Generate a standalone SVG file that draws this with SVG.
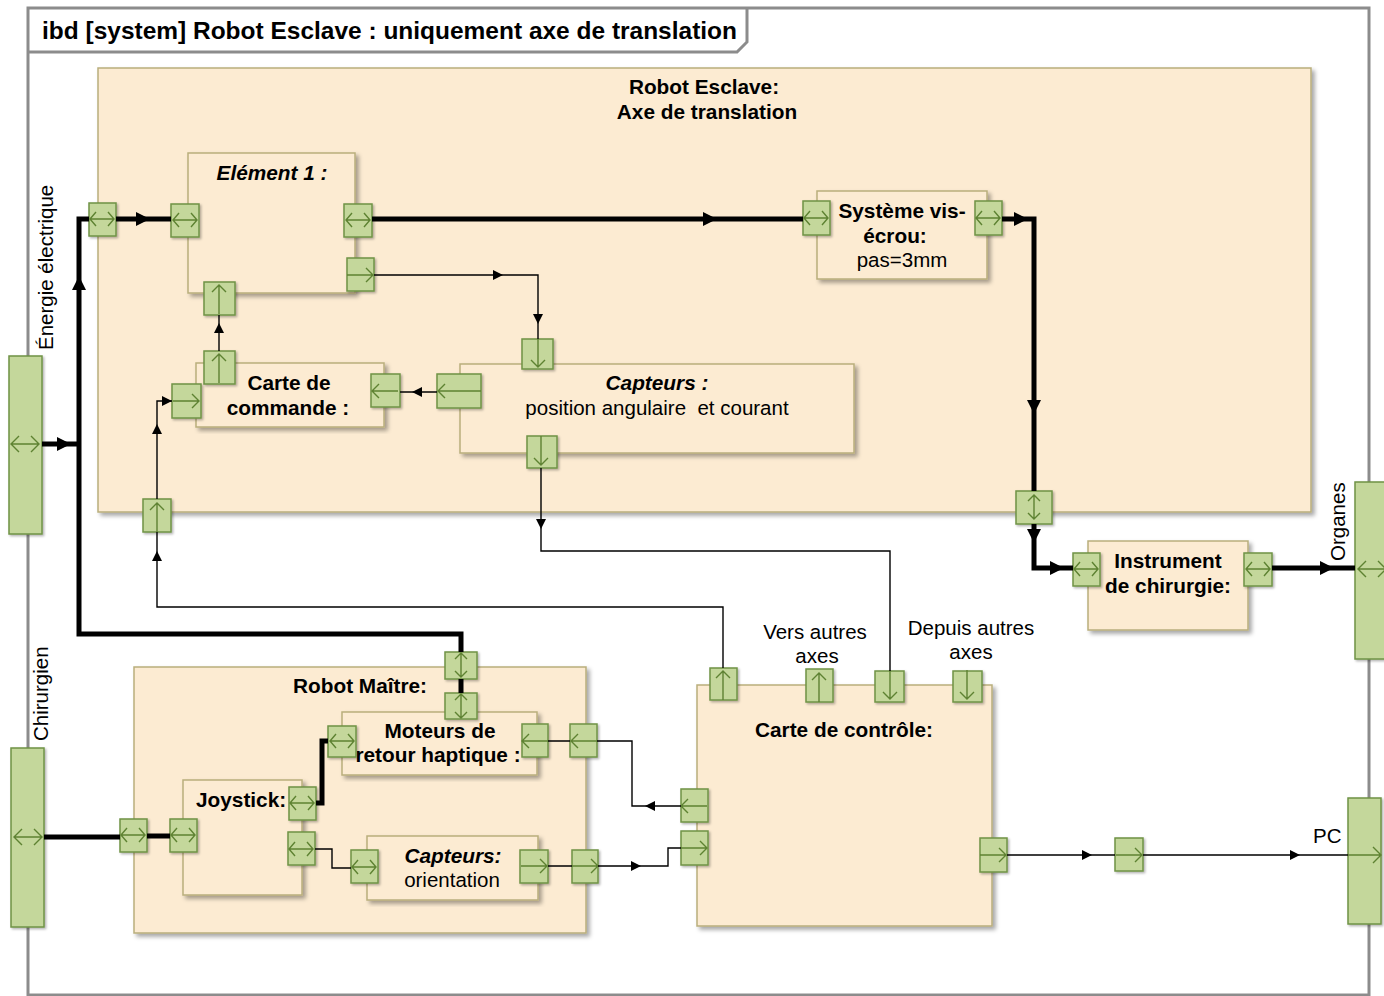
<svg xmlns="http://www.w3.org/2000/svg" width="1384" height="996" viewBox="0 0 1384 996">
<style>
text{font-family:"Liberation Sans",Arial,sans-serif;fill:#000}
.b{font-weight:bold;font-size:20.8px}
.bi{font-weight:bold;font-style:italic;font-size:20.8px}
.r{font-size:20.5px}
.c{text-anchor:middle}
.box{fill:#FCEBD2;stroke:#B9AE7C;stroke-width:1.5}
.port{fill:#C4D79B;stroke:#6F9346;stroke-width:1.5}
.gl{fill:none;stroke:#5E8232;stroke-width:1.4}
.thick{fill:none;stroke:#000;stroke-width:5;stroke-linejoin:miter}
.thin{fill:none;stroke:#000;stroke-width:1.4}
.frame{fill:none;stroke:#8C8C8C;stroke-width:3}
</style>
<defs>
<filter id="sh" x="-5%" y="-5%" width="115%" height="115%">
<feDropShadow dx="3" dy="3" stdDeviation="2" flood-color="#000" flood-opacity="0.35"/>
</filter>
<filter id="shp" x="-20%" y="-20%" width="150%" height="150%">
<feDropShadow dx="1.5" dy="1.5" stdDeviation="1" flood-color="#000" flood-opacity="0.3"/>
</filter>
<path id="aK" d="M0,0 L-14,-7 L-14,7 Z" fill="#000"/>
<path id="aN" d="M0,0 L-10,-5 L-10,5 Z" fill="#000"/>
<path id="gBH" class="gl" d="M-12,0 H12 M-6,-7 L-12,0 L-6,7 M6,-7 L12,0 L6,7"/>
<path id="gBHx" class="gl" d="M-14,0 H14 M-6,-8 L-14,0 L-6,8 M6,-8 L14,0 L6,8"/>
<path id="gBV" class="gl" d="M0,-12 V12 M-6,-6 L0,-12 L6,-6 M-6,6 L0,12 L6,6"/>
<path id="gR" class="gl" d="M-13,0 H13 M6,-7 L13,0 L6,7"/>
<path id="gL" class="gl" d="M13,0 H-13 M-6,-7 L-13,0 L-6,7"/>
<path id="gU" class="gl" d="M0,16 V-13 M-7,-6 L0,-13 L7,-6"/>
<path id="gD" class="gl" d="M0,-16 V13 M-7,6 L0,13 L7,6"/>
</defs>

<rect width="1384" height="996" fill="#fff"/>

<g id="frame">
<rect class="frame" x="28" y="8" width="1341" height="987"/>
<path class="frame" stroke-width="2.5" d="M28,52 H737 L747,42 V8"/>
<text x="42" y="39" font-weight="bold" font-size="24" textLength="695" lengthAdjust="spacingAndGlyphs">ibd [system] Robot Esclave : uniquement axe de translation</text>
</g>

<g id="energie">
<rect class="port" filter="url(#shp)" x="9" y="356" width="33" height="178"/>
<use href="#gBHx" x="25" y="444"/>
<text class="r" transform="translate(53,350) rotate(-90)">Énergie électrique</text>
</g>

<g id="chirurgien">
<rect class="port" filter="url(#shp)" x="11" y="748" width="33" height="179"/>
<use href="#gBHx" x="28" y="837"/>
<text class="r" transform="translate(48,741) rotate(-90)">Chirurgien</text>
</g>

<g id="organes">
<rect class="port" filter="url(#shp)" x="1355" y="482" width="40" height="177"/>
<use href="#gBHx" x="1372" y="569"/>
<text class="r" transform="translate(1345,561) rotate(-90)">Organes</text>
</g>

<g id="pc">
<rect class="port" filter="url(#shp)" x="1348" y="798" width="33" height="126"/>
<path class="gl" d="M1348,855 H1381 M1373,847 L1381,855 L1373,863"/>
<text class="r" x="1313" y="843">PC</text>
</g>

<g id="robot-esclave">
<rect class="box" filter="url(#sh)" x="98" y="68" width="1213" height="444"/>
<text class="b c" x="704" y="94">Robot Esclave:</text>
<text class="b c" x="707" y="119">Axe de translation</text>
<rect class="port" filter="url(#shp)" x="89" y="203" width="27" height="33"/>
<use href="#gBH" x="102" y="219"/>
<rect class="port" filter="url(#shp)" x="1016" y="491" width="36" height="33"/>
<use href="#gBV" x="1034" y="507"/>
<rect class="port" filter="url(#shp)" x="143" y="499" width="28" height="33"/>
<use href="#gU" x="157" y="516"/>
</g>

<g id="element1">
<rect class="box" filter="url(#sh)" x="188" y="153" width="167" height="140"/>
<text class="bi c" x="272" y="180">Elément 1 :</text>
<rect class="port" filter="url(#shp)" x="171" y="204" width="28" height="33"/>
<use href="#gBH" x="185" y="220"/>
<rect class="port" filter="url(#shp)" x="344" y="204" width="28" height="33"/>
<use href="#gBH" x="358" y="220"/>
<rect class="port" filter="url(#shp)" x="347" y="258" width="27" height="33"/>
<use href="#gR" x="360" y="275"/>
<rect class="port" filter="url(#shp)" x="204" y="282" width="31" height="33"/>
<use href="#gU" x="219" y="298"/>
</g>

<g id="carte-commande">
<rect class="box" filter="url(#sh)" x="196" y="363" width="188" height="64"/>
<text class="b c" x="289" y="390">Carte de</text>
<text class="b c" x="288" y="415">commande :</text>
<rect class="port" filter="url(#shp)" x="204" y="351" width="31" height="33"/>
<use href="#gU" x="219" y="367"/>
<rect class="port" filter="url(#shp)" x="172" y="384" width="29" height="34"/>
<use href="#gR" x="186" y="401"/>
<rect class="port" filter="url(#shp)" x="371" y="374" width="29" height="33"/>
<use href="#gL" x="385" y="391"/>
</g>

<g id="capteurs-position">
<rect class="box" filter="url(#sh)" x="460" y="364" width="394" height="89"/>
<text class="bi c" x="657" y="390">Capteurs :</text>
<text class="r c" x="657" y="415" xml:space="preserve">position angulaire  et courant</text>
<rect class="port" filter="url(#shp)" x="437" y="374" width="44" height="34"/>
<path class="gl" d="M481,391 H438 M445,384 L438,391 L445,398"/>
<rect class="port" filter="url(#shp)" x="522" y="339" width="31" height="30"/>
<path class="gl" d="M538,339 V367 M531,360 L538,367 L545,360"/>
<rect class="port" filter="url(#shp)" x="527" y="436" width="30" height="32"/>
<use href="#gD" x="541" y="452"/>
</g>

<g id="systeme-vis-ecrou">
<rect class="box" filter="url(#sh)" x="817" y="191" width="170" height="88"/>
<text class="b c" x="902" y="218">Système vis-</text>
<text class="b c" x="895" y="243">écrou:</text>
<text class="r c" x="902" y="267">pas=3mm</text>
<rect class="port" filter="url(#shp)" x="803" y="201" width="27" height="34"/>
<use href="#gBH" x="816" y="218"/>
<rect class="port" filter="url(#shp)" x="975" y="201" width="27" height="34"/>
<use href="#gBH" x="988" y="218"/>
</g>

<g id="instrument">
<rect class="box" filter="url(#sh)" x="1088" y="541" width="160" height="89"/>
<text class="b c" x="1168" y="568">Instrument</text>
<text class="b c" x="1168" y="593">de chirurgie:</text>
<rect class="port" filter="url(#shp)" x="1073" y="553" width="27" height="33"/>
<use href="#gBH" x="1086" y="569"/>
<rect class="port" filter="url(#shp)" x="1244" y="553" width="28" height="33"/>
<use href="#gBH" x="1258" y="569"/>
</g>

<g id="robot-maitre">
<rect class="box" filter="url(#sh)" x="134" y="667" width="452" height="266"/>
<text class="b" x="293" y="693">Robot Maître:</text>
<rect class="port" filter="url(#shp)" x="445" y="652" width="32" height="27"/>
<use href="#gBV" x="461" y="665"/>
<rect class="port" filter="url(#shp)" x="570" y="724" width="27" height="33"/>
<use href="#gL" x="584" y="741"/>
<rect class="port" filter="url(#shp)" x="120" y="819" width="27" height="33"/>
<use href="#gBH" x="133" y="835"/>
<rect class="port" filter="url(#shp)" x="572" y="850" width="26" height="33"/>
<use href="#gR" x="585" y="866"/>
</g>

<g id="moteurs">
<rect class="box" filter="url(#sh)" x="342" y="712" width="195" height="63"/>
<text class="b c" x="440" y="738">Moteurs de</text>
<text class="b c" x="438" y="762">retour haptique :</text>
<rect class="port" filter="url(#shp)" x="445" y="693" width="32" height="26"/>
<use href="#gBV" x="461" y="706"/>
<rect class="port" filter="url(#shp)" x="328" y="726" width="28" height="31"/>
<use href="#gBH" x="342" y="741"/>
<rect class="port" filter="url(#shp)" x="522" y="724" width="26" height="33"/>
<use href="#gL" x="535" y="741"/>
</g>

<g id="joystick">
<rect class="box" filter="url(#sh)" x="183" y="780" width="119" height="115"/>
<text class="b" x="196" y="807">Joystick:</text>
<rect class="port" filter="url(#shp)" x="170" y="819" width="27" height="33"/>
<use href="#gBH" x="183" y="835"/>
<rect class="port" filter="url(#shp)" x="289" y="787" width="27" height="33"/>
<use href="#gBH" x="302" y="803"/>
<rect class="port" filter="url(#shp)" x="288" y="832" width="27" height="33"/>
<use href="#gBH" x="301" y="849"/>
</g>

<g id="capteurs-orientation">
<rect class="box" filter="url(#sh)" x="367" y="836" width="171" height="64"/>
<text class="bi c" x="453" y="863">Capteurs:</text>
<text class="r c" x="452" y="887">orientation</text>
<rect class="port" filter="url(#shp)" x="351" y="850" width="27" height="33"/>
<use href="#gBH" x="364" y="867"/>
<rect class="port" filter="url(#shp)" x="520" y="850" width="28" height="33"/>
<use href="#gR" x="534" y="866"/>
</g>

<g id="carte-controle">
<rect class="box" filter="url(#sh)" x="697" y="685" width="295" height="241"/>
<text class="b c" x="844" y="737">Carte de contrôle:</text>
<rect class="port" filter="url(#shp)" x="710" y="668" width="27" height="32"/>
<use href="#gU" x="723" y="684"/>
<rect class="port" filter="url(#shp)" x="806" y="669" width="27" height="33"/>
<use href="#gU" x="819" y="686"/>
<rect class="port" filter="url(#shp)" x="875" y="671" width="29" height="31"/>
<use href="#gD" x="890" y="686"/>
<rect class="port" filter="url(#shp)" x="953" y="671" width="29" height="31"/>
<use href="#gD" x="967" y="686"/>
<rect class="port" filter="url(#shp)" x="681" y="789" width="27" height="33"/>
<use href="#gL" x="694" y="806"/>
<rect class="port" filter="url(#shp)" x="681" y="831" width="27" height="34"/>
<use href="#gR" x="694" y="848"/>
<rect class="port" filter="url(#shp)" x="980" y="838" width="27" height="34"/>
<use href="#gR" x="993" y="855"/>
</g>

<g id="port-intermediaire">
<rect class="port" filter="url(#shp)" x="1115" y="838" width="28" height="33"/>
<use href="#gR" x="1129" y="855"/>
</g>

<g id="labels-axes">
<text class="r c" x="815" y="639">Vers autres</text>
<text class="r c" x="817" y="663">axes</text>
<text class="r c" x="971" y="635">Depuis autres</text>
<text class="r c" x="971" y="659">axes</text>
</g>

<g id="connectors">
<path class="thick" d="M42,444 H79"/>
<use href="#aK" transform="translate(71,444)"/>
<path class="thick" d="M89,219 H79 V634 H461 V652"/>
<use href="#aK" transform="translate(79,276) rotate(-90)"/>
<path class="thick" d="M116,219 H171"/>
<use href="#aK" transform="translate(150,219)"/>
<path class="thick" d="M372,219 H803"/>
<use href="#aK" transform="translate(717,219)"/>
<path class="thick" d="M1002,219 H1034 V491"/>
<use href="#aK" transform="translate(1028,219)"/>
<use href="#aK" transform="translate(1034,414) rotate(90)"/>
<path class="thick" d="M1034,524 V568 H1073"/>
<use href="#aK" transform="translate(1034,543) rotate(90)"/>
<use href="#aK" transform="translate(1064,568)"/>
<path class="thick" d="M1272,568 H1355"/>
<use href="#aK" transform="translate(1334,568)"/>
<path class="thick" d="M461,679 V693"/>
<path class="thick" d="M44,837 H120 M147,836 H170"/>
<path class="thick" d="M316,803 H322 V741 H328"/>

<path class="thin" d="M374,275 H538 V339"/>
<use href="#aN" transform="translate(503,275)"/>
<use href="#aN" transform="translate(538,324) rotate(90)"/>
<path class="thin" d="M437,392 H400"/>
<use href="#aN" transform="translate(412,392) rotate(180)"/>
<path class="thin" d="M219,351 V315"/>
<use href="#aN" transform="translate(219,323) rotate(-90)"/>
<path class="thin" d="M157,499 V401 H172"/>
<use href="#aN" transform="translate(157,424) rotate(-90)"/>
<use href="#aN" transform="translate(172,401)"/>
<path class="thin" d="M723,668 V607 H157 V532"/>
<use href="#aN" transform="translate(157,551) rotate(-90)"/>
<path class="thin" d="M541,468 V551 H890 V671"/>
<use href="#aN" transform="translate(541,529) rotate(90)"/>
<path class="thin" d="M548,741 H570 M597,741 H632 V806 H681"/>
<use href="#aN" transform="translate(645,806) rotate(180)"/>
<path class="thin" d="M548,866 H572 M598,866 H668 V848 H681"/>
<use href="#aN" transform="translate(641,866)"/>
<path class="thin" d="M315,849 H332 V868 H351"/>
<path class="thin" d="M1007,855 H1115 M1143,855 H1348"/>
<use href="#aN" transform="translate(1092,855)"/>
<use href="#aN" transform="translate(1300,855)"/>
</g>
</svg>
